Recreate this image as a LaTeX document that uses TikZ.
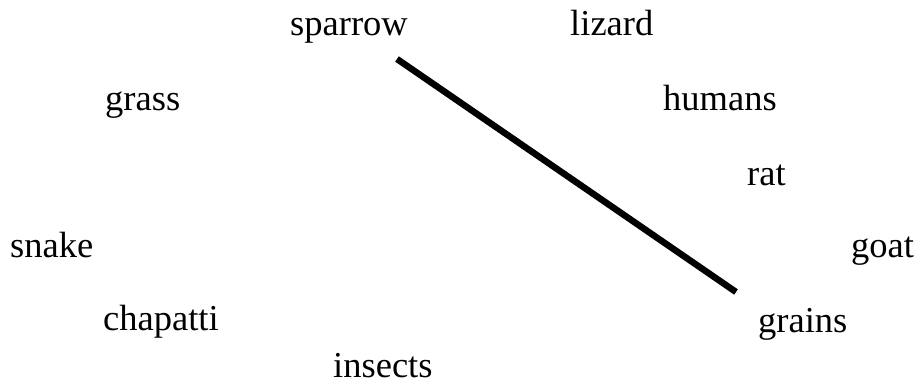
\documentclass[tikz,border=0pt]{standalone}
\usepackage{fontspec}
\setmainfont{Liberation Serif}
\usepackage{tikz}
\usetikzlibrary{positioning}

\begin{document}
\begin{tikzpicture}[x=1pt, y=-1pt,
    item/.style={anchor=base west, inner sep=0pt, font=\fontsize{36.5}{40}\selectfont},
    link/.style={line width=6.5pt}]
  \useasboundingbox (0,0) rectangle (917,388);
  \node[item] (sparrow) at (290,35) {sparrow};
  \node[item] (lizard) at (570,35) {lizard};
  \node[item] (grass) at (105,110) {grass};
  \node[item] (humans) at (663,110) {humans};
  \node[item] (rat) at (747,185) {rat};
  \node[item] (snake) at (10,257) {snake};
  \node[item] (goat) at (851,257) {goat};
  \node[item] (chapatti) at (103,330) {chapatti};
  \node[item] (grains) at (758,332) {grains};
  \node[item] (insects) at (333,377) {insects};

  \coordinate (lineA) at (397,59);
  \coordinate (lineB) at (736,292);
  \draw[link] (lineA) -- (lineB);
\end{tikzpicture}
\end{document}
